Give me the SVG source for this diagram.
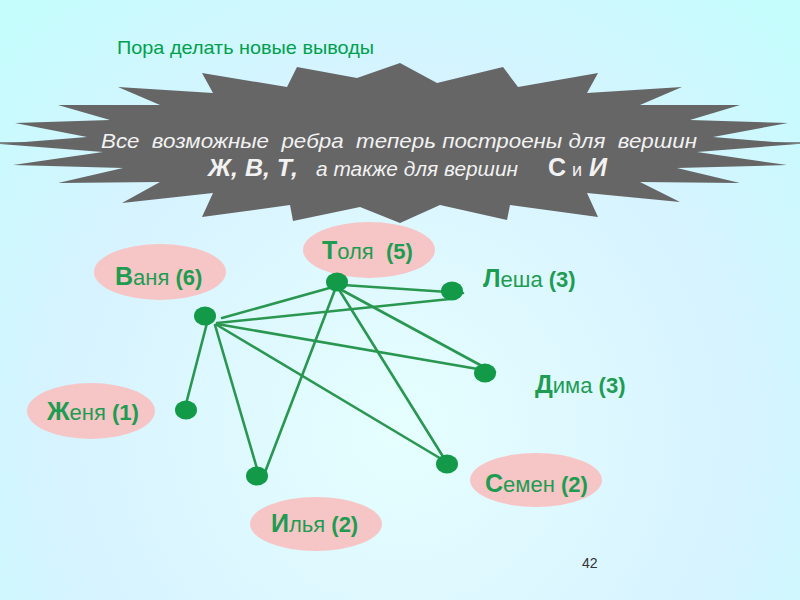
<svg xmlns="http://www.w3.org/2000/svg" width="800" height="600" viewBox="0 0 800 600">
<defs>
<radialGradient id="bg" cx="400" cy="430" r="560" gradientUnits="userSpaceOnUse">
<stop offset="0" stop-color="#f2ffff"/>
<stop offset="0.6" stop-color="#def"/>
<stop offset="1" stop-color="#c4fcfc"/>
</radialGradient>
<style>
.nodeE{fill:#f6c6c6;}
.lbl{font-family:"Liberation Sans",Arial,sans-serif;fill:#1d9c52;font-weight:bold;font-size:22px;}
.lbl .big{font-size:25px;}
.lbl .reg{font-weight:normal;}
.dot{fill:#129a48;}
.edge{stroke:#2a9750;stroke-width:2.6;fill:none;stroke-linecap:round;}
.star{fill:#666666;}
.st{font-family:"Liberation Sans Narrow","Liberation Sans",Arial,sans-serif;fill:#f2f2f2;font-style:italic;}
</style>
</defs>
<rect width="800" height="600" fill="#c8fefe"/>
<rect width="800" height="600" fill="url(#bg)" opacity="0.7"/>

<text x="117" y="54" font-family="'Liberation Sans Narrow','Liberation Sans',Arial,sans-serif" font-size="19" fill="#00a04c" textLength="257" lengthAdjust="spacingAndGlyphs">Пора делать новые выводы</text>

<g id="banner">
<polygon class="star" points="400,63 437,83 503,67 518,87 598,73 587,93 682,87 640,105 740,105 690,120 788,123 713,137 798,144 697,152 787,165 677,168 740,183 640,182 680,202 587,193 598,217 510,205 507,220 440,205 400,223 360,207 293,221 290,205 202,217 213,193 122,203 160,182 58,183 123,168 13,165 103,152 0,144 87,137 15,123 110,120 58,105 160,105 118,87 213,93 202,73 287,87 297,67 357,78"/>
<line x1="0" y1="143" x2="105" y2="143" stroke="#666" stroke-width="1.5"/>
<line x1="695" y1="143" x2="800" y2="143" stroke="#666" stroke-width="1.5"/>
<text class="st" x="101" y="148" font-size="21" textLength="596" lengthAdjust="spacingAndGlyphs" xml:space="preserve">Все  возможные  ребра  теперь построены для  вершин</text>
<text class="st" x="208" y="176" font-size="24" font-weight="bold" textLength="90" lengthAdjust="spacingAndGlyphs">Ж, В, Т,</text>
<text class="st" x="316" y="176" font-size="21" textLength="202" lengthAdjust="spacingAndGlyphs">а также для вершин</text>
<text x="548" y="176" font-family="'Liberation Sans',Arial,sans-serif" font-size="25" font-weight="bold" fill="#f2f2f2">С</text>
<text x="572" y="176" font-family="'Liberation Sans Narrow','Liberation Sans',Arial,sans-serif" font-size="18" fill="#f2f2f2">и</text>
<text class="st" x="589" y="176" font-size="25" font-weight="bold">И</text>
</g>

<g id="connectors">
<line class="edge" x1="222" y1="318" x2="333" y2="287"/>
<line class="edge" x1="217" y1="323" x2="450" y2="299"/>
<line class="edge" x1="217" y1="324" x2="495" y2="372"/>
<line class="edge" x1="217" y1="325" x2="448" y2="463"/>
<line class="edge" x1="215" y1="325" x2="258" y2="472"/>
<line class="edge" x1="207" y1="323" x2="186" y2="404"/>
<line class="edge" x1="343" y1="285" x2="463" y2="293"/>
<line class="edge" x1="338" y1="288" x2="493" y2="372"/>
<line class="edge" x1="338" y1="288" x2="447" y2="463"/>
<line class="edge" x1="336" y1="287" x2="262" y2="480"/>
</g>

<g id="vanya">
<ellipse class="nodeE" cx="160" cy="272" rx="66" ry="28"/>
<text class="lbl" x="115" y="285"><tspan class="big">В</tspan><tspan class="reg">аня</tspan> (6)</text>
<ellipse class="dot" cx="205" cy="316" rx="11" ry="9.5"/>
</g>
<g id="tolya">
<ellipse class="nodeE" cx="369" cy="250" rx="66" ry="28"/>
<text class="lbl" x="322" y="259" xml:space="preserve"><tspan class="big">Т</tspan><tspan class="reg">оля</tspan>  (5)</text>
<ellipse class="dot" cx="337" cy="282" rx="11" ry="9.5"/>
</g>
<g id="lesha">
<text class="lbl" x="483" y="287"><tspan class="big">Л</tspan><tspan class="reg">еша</tspan> (3)</text>
<ellipse class="dot" cx="452" cy="291" rx="11" ry="9.5"/>
</g>
<g id="dima">
<text class="lbl" x="535" y="393"><tspan class="big">Д</tspan><tspan class="reg">има</tspan> (3)</text>
<ellipse class="dot" cx="485" cy="373" rx="11" ry="9.5"/>
</g>
<g id="zhenya">
<ellipse class="nodeE" cx="91" cy="411" rx="64" ry="28"/>
<text class="lbl" x="47" y="420"><tspan class="big">Ж</tspan><tspan class="reg">еня</tspan> (1)</text>
<ellipse class="dot" cx="186" cy="410" rx="11" ry="9.5"/>
</g>
<g id="ilya">
<ellipse class="nodeE" cx="316" cy="524" rx="66" ry="27"/>
<text class="lbl" x="271" y="532"><tspan class="big">И</tspan><tspan class="reg">лья</tspan> (2)</text>
<ellipse class="dot" cx="257" cy="476" rx="11" ry="9.5"/>
</g>
<g id="semen">
<ellipse class="nodeE" cx="536" cy="480" rx="66" ry="27"/>
<text class="lbl" x="485" y="492"><tspan class="big">С</tspan><tspan class="reg">емен</tspan> (2)</text>
<ellipse class="dot" cx="447" cy="464" rx="11" ry="9.5"/>
</g>

<text x="582" y="568" font-family="'Liberation Sans',Arial,sans-serif" font-size="14" fill="#333">42</text>
</svg>
